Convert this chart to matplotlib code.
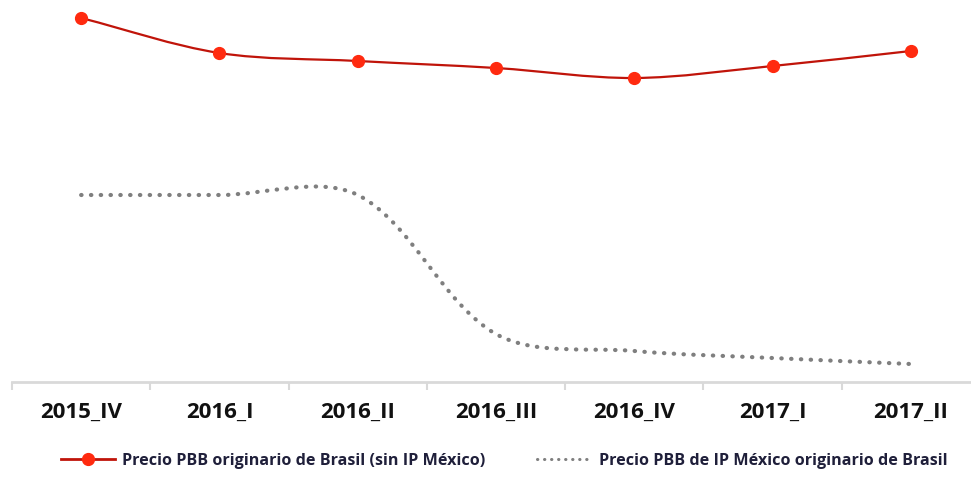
import numpy as np
import matplotlib
matplotlib.use("Agg")
import matplotlib.pyplot as plt
from matplotlib.path import Path
from matplotlib.patches import PathPatch
from matplotlib.lines import Line2D

plt.rcParams['font.family'] = ['Open Sans', 'DejaVu Sans']

periods = ["2015_IV", "2016_I", "2016_II", "2016_III", "2016_IV", "2017_I", "2017_II"]
precio_sin_ip = [36.4, 32.9, 32.1, 31.4, 30.4, 31.6, 33.1]
precio_ip = [18.7, 18.7, 18.7, 4.8, 3.1, 2.4, 1.8]

label_sin_ip = "Precio PBB originario de Brasil (sin IP México)"
label_ip = "Precio PBB de IP México originario de Brasil"

RED_LINE = "#c0140a"
RED_MARK = "#ff2a0f"
GREY = "#7f7f7f"


def smooth_path(ax, x, y):
    """Excel-like smoothed line: Bezier segments, control points scaled
    by chord length (computed in display space), returned in data space."""
    pts = ax.transData.transform(np.column_stack([x, y]).astype(float))
    n = len(pts)
    verts = [pts[0]]
    codes = [Path.MOVETO]
    for i in range(n - 1):
        p0, p1 = pts[i], pts[i + 1]
        pa = pts[max(i - 1, 0)]
        pb = pts[min(i + 2, n - 1)]
        l01 = np.hypot(*(p1 - p0))
        la0 = np.hypot(*(p0 - pa))
        l1b = np.hypot(*(pb - p1))
        c1 = p0 + (p1 - pa) * (l01 / (la0 + l01)) / 3.0 if la0 > 0 else p0 + (p1 - p0) / 3.0
        c2 = p1 - (pb - p0) * (l01 / (l01 + l1b)) / 3.0 if l1b > 0 else p1 - (p1 - p0) / 3.0
        verts += [c1, c2, p1]
        codes += [Path.CURVE4] * 3
    verts = ax.transData.inverted().transform(np.array(verts))
    return Path(verts, codes)


fig = plt.figure(figsize=(9.71, 4.95), dpi=100)
ax = fig.add_axes([12 / 971, 113 / 495, 968 / 971, 382 / 495])

x = np.arange(len(periods))
ax.set_xlim(-0.5, len(periods) - 0.5)
ax.set_ylim(0, 38.2)

# smoothed red line with markers
ax.add_patch(PathPatch(smooth_path(ax, x, precio_sin_ip), fill=False,
                       edgecolor=RED_LINE, lw=1.6, zorder=3))
ax.plot(x, precio_sin_ip, ls="none", marker="o", ms=8.5,
        color=RED_MARK, zorder=4)

# smoothed grey dotted line
ax.add_patch(PathPatch(smooth_path(ax, x, precio_ip), fill=False,
                       edgecolor=GREY, lw=3.0, linestyle=(0, (0.1, 2.25)),
                       capstyle="round", zorder=2))

for side in ("top", "right", "left"):
    ax.spines[side].set_visible(False)
ax.spines["bottom"].set_color("#d9d9d9")
ax.spines["bottom"].set_linewidth(2.0)
ax.set_yticks([])

ax.set_xticks(x)
ax.set_xticklabels(periods, fontsize=16, fontweight="bold", color="#111111")
ax.tick_params(axis="x", length=0, pad=14)
ax.set_xticks(np.arange(-0.5, len(periods), 1.0), minor=True)
ax.tick_params(axis="x", which="minor", length=6, width=1.5, color="#d9d9d9")

handles = [
    Line2D([], [], color=RED_LINE, lw=2.0, marker="o", ms=8.5,
           markerfacecolor=RED_MARK, markeredgecolor=RED_MARK),
    Line2D([], [], color=GREY, lw=2.2, linestyle=(0, (0.1, 2.2)),
           dash_capstyle="round"),
]
fig.legend(handles, [label_sin_ip, label_ip], loc="center",
           bbox_to_anchor=(0.519, 0.069), ncol=2, frameon=False,
           handlelength=3.4, handletextpad=0.43, columnspacing=3.2,
           prop={"size": 11.6, "weight": "bold"}, labelcolor="#1f1f3a")

fig.savefig("out.png", dpi=100)
